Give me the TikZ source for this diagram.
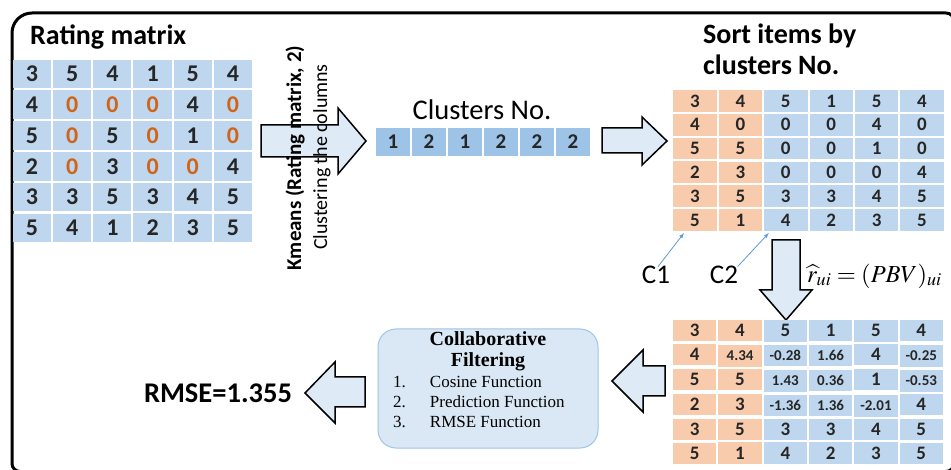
\documentclass[tikz,border=0pt]{standalone}
\usepackage{mathptmx}
\usepackage[no-math]{fontspec}
\setmainfont{Carlito}
\newfontfamily\cftimes{Liberation Serif}
\usetikzlibrary{matrix,calc}
\definecolor{cellblue}{RGB}{190,215,238}
\definecolor{clusterblue}{RGB}{157,195,230}
\definecolor{cellorange}{RGB}{248,203,173}
\definecolor{zeroorange}{RGB}{208,100,25}
\definecolor{arrowfill}{RGB}{222,235,247}
\definecolor{cffill}{RGB}{218,231,244}
\definecolor{cfline}{RGB}{160,196,228}
\definecolor{pointer}{RGB}{91,155,213}
\definecolor{digit}{RGB}{38,38,38}

\begin{document}
\begin{tikzpicture}[x=1pt, y=-1pt,
    cell/.style={fill=cellblue, text=digit, inner sep=0pt, font=\bfseries\fontsize{24}{24}\selectfont,
      minimum width=38.2pt, minimum height=28.7pt},
    smallcell/.style={cell, font=\bfseries\fontsize{19}{19}\selectfont,
      minimum width=43.4pt, minimum height=21.7pt},
    zero/.style={text=zeroorange},
    dec/.style={font=\bfseries\fontsize{15}{15}\selectfont},
    blockarrow/.style={fill=arrowfill, draw=black, line width=1.5pt, line join=miter},
    title/.style={font=\bfseries\fontsize{28}{31}\selectfont, align=left, inner sep=0pt},
    pointer/.style={draw=pointer, line width=0.8pt, -latex}]
    \useasboundingbox (0,0) rectangle (951,470);
    % outer frame
    \draw[line width=3pt] (12,300) [rounded corners=20pt] -- (12,13) [rounded corners=8pt] -- (954,13)
      -- (954,471.5) -- (12,471.5) [sharp corners] -- cycle;

    % Rating matrix
    \node[title, anchor=west] (t1) at (30,37) {Rating matrix};
    \matrix (m1) [matrix of nodes, nodes={cell}, column sep=2pt, row sep=2pt] at (132.5,151) {
      3 & 5 & 4 & 1 & 5 & 4 \\
      4 & |[zero]| 0 & |[zero]| 0 & |[zero]| 0 & 4 & |[zero]| 0 \\
      5 & |[zero]| 0 & 5 & |[zero]| 0 & 1 & |[zero]| 0 \\
      2 & |[zero]| 0 & 3 & |[zero]| 0 & |[zero]| 0 & 4 \\
      3 & 3 & 5 & 3 & 4 & 5 \\
      5 & 4 & 1 & 2 & 3 & 5 \\
    };

    % Kmeans step
    \draw[blockarrow] (261,125) -- (338,125) -- (338,108) -- (366,141) -- (338,174) -- (338,157) -- (261,157) -- cycle;
    \node[rotate=90, font=\bfseries\fontsize{21}{21}\selectfont] (kmeans) at (295,158) {Kmeans (Rating matrix, 2)};
    \node[rotate=90, font=\fontsize{20}{20}\selectfont] (cols) at (322,157) {Clustering the columns};

    % Clusters No.
    \node[font=\fontsize{28.5}{28.5}\selectfont] (t2) at (482,110) {Clusters No.};
    \matrix (m2) [matrix of nodes, nodes={cell, fill=clusterblue, font=\bfseries\fontsize{21}{21}\selectfont,
      minimum width=34pt, minimum height=28pt}, column sep=2pt] at (483,142) {
      1 & 2 & 1 & 2 & 2 & 2 \\
    };
    \draw[blockarrow] (602,128) -- (642,128) -- (642,117) -- (667,141) -- (642,165) -- (642,153) -- (602,153) -- cycle;

    % Sorted matrix
    \node[title, anchor=north west] (t3) at (703,24) {Sort items by\\clusters No.};
    \matrix (m3) [matrix of nodes, nodes={smallcell}, column sep=2pt, row sep=2pt,
      column 1/.style={nodes={fill=cellorange}}, column 2/.style={nodes={fill=cellorange}}] at (808.5,160.5) {
      3 & 4 & 5 & 1 & 5 & 4 \\
      4 & 0 & 0 & 0 & 4 & 0 \\
      5 & 5 & 0 & 0 & 1 & 0 \\
      2 & 3 & 0 & 0 & 0 & 4 \\
      3 & 5 & 3 & 3 & 4 & 5 \\
      5 & 1 & 4 & 2 & 3 & 5 \\
    };
    \node[font=\fontsize{27}{27}\selectfont] (c1) at (656,275) {C1};
    \node[font=\fontsize{27}{27}\selectfont] (c2) at (724,275) {C2};
    \draw[pointer] ($(c1.north)+(2,4)$) -- ($(m3-6-1.south)+(-11,2)$);
    \draw[pointer] ($(c2.north east)+(-4,4)$) -- ($(m3-6-3.south west)+(5,2)$);

    % Prediction
    \draw[blockarrow] (772,240) -- (800,240) -- (800,290) -- (812,290) -- (786,320) -- (760,290) -- (772,290) -- cycle;
    \node[font=\fontsize{24.5}{24.5}\selectfont, anchor=west, inner sep=0pt] (eq) at (807,276) {$\widehat{r}_{ui}=(PBV)_{ui}$};
    \matrix (m4) [matrix of nodes, nodes={smallcell, minimum width=43.3pt}, column sep=2pt, row sep=2pt,
      column 1/.style={nodes={fill=cellorange}}, column 2/.style={nodes={fill=cellorange}}] at (808,392) {
      3 & 4 & 5 & 1 & 5 & 4 \\
      4 & |[dec]| 4.34 & |[dec]| -0.28 & |[dec]| 1.66 & 4 & |[dec]| -0.25 \\
      5 & 5 & |[dec]| 1.43 & |[dec]| 0.36 & 1 & |[dec]| -0.53 \\
      2 & 3 & |[dec]| -1.36 & |[dec]| 1.36 & |[dec]| -2.01 & 4 \\
      3 & 5 & 3 & 3 & 4 & 5 \\
      5 & 1 & 4 & 2 & 3 & 5 \\
    };
    \draw[blockarrow] (665,366) -- (643,366) -- (643,350) -- (612,381) -- (643,412) -- (643,396) -- (665,396) -- cycle;

    % Collaborative filtering box
    \node[fill=cffill, draw=cfline, line width=1pt, rounded corners=18pt, minimum width=220pt,
      minimum height=119pt] (cf) at (488,388.5) {};
    \node[font=\cftimes\bfseries\fontsize{20}{21}\selectfont, align=center, inner sep=0pt, anchor=north]
      (cft) at (488,331) {Collaborative\\Filtering};
    \node[font=\cftimes\fontsize{17}{20}\selectfont, inner sep=0pt, anchor=north west] (cfl) at (393,373)
      {\begin{tabular}{@{}l@{\hspace{24pt}}l@{}}
        1. & Cosine Function\\
        2. & Prediction Function\\
        3. & RMSE Function
      \end{tabular}};
    \draw[blockarrow] (365,377) -- (335,377) -- (335,362) -- (305,393) -- (335,423) -- (335,407) -- (365,407) -- cycle;
    \node[font=\bfseries\fontsize{28.5}{28.5}\selectfont] (rmse) at (218,393) {RMSE=1.355};
  \end{tikzpicture}
\end{document}
